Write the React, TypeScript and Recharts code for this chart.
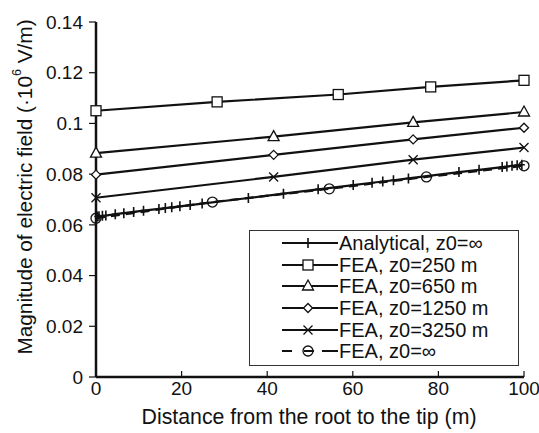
import { LineChart, Line, XAxis, YAxis, Legend } from "recharts";

const FONT = '"Liberation Sans", Arial, Helvetica, sans-serif';
const INK = "#111";

// axis ticks
const ticksX = [0, 20, 40, 60, 80, 100];
const ticksY = [0, 0.02, 0.04, 0.06, 0.08, 0.1, 0.12, 0.14];

// Analytical, z0=∞ (dense points near root and tip)
const analyticalX = [0.3, 0.7, 1.5, 2.3, 4.5, 6.5, 8.8, 11.1, 14.7, 16.2, 17.7, 19.6, 22, 24.8, 35.6, 43.8, 51.9, 60.1, 64.5, 67, 69.5, 73, 84.8, 89.5, 94.9, 96, 97.2, 98.4, 99.5];
const analyticalY = [0.0633, 0.0634, 0.0636, 0.0637, 0.0642, 0.0646, 0.0651, 0.0656, 0.0663, 0.0666, 0.0669, 0.0673, 0.0678, 0.0684, 0.0706, 0.0723, 0.074, 0.0757, 0.0766, 0.0771, 0.0776, 0.0783, 0.0808, 0.0817, 0.0828, 0.083, 0.0833, 0.0835, 0.0837];

// FEA series
const fea250X = [0, 28.3, 56.6, 78.2, 100];
const fea250Y = [0.105, 0.1085, 0.1114, 0.1144, 0.117];
const fea650X = [0, 41.5, 74.1, 100];
const fea650Y = [0.0883, 0.0948, 0.1004, 0.1045];
const fea1250X = [0, 41.5, 74.1, 100];
const fea1250Y = [0.0798, 0.0876, 0.0937, 0.0983];
const fea3250X = [0, 41.5, 74.1, 100];
const fea3250Y = [0.0707, 0.0789, 0.0857, 0.0905];
const feaInfX = [0, 27.2, 54.5, 77.2, 100];
const feaInfY = [0.0626, 0.069, 0.0742, 0.0789, 0.0833];

const zip = (xs: number[], ys: number[]) => xs.map((x, i) => ({ x, y: ys[i] }));

type Shape = "plus" | "square" | "triangle" | "diamond" | "cross" | "circle";

const series: { name: string; data: { x: number; y: number }[]; shape: Shape; dash?: string }[] = [
  { name: "Analytical, z0=∞", data: zip(analyticalX, analyticalY), shape: "plus" },
  { name: "FEA, z0=250 m", data: zip(fea250X, fea250Y), shape: "square" },
  { name: "FEA, z0=650 m", data: zip(fea650X, fea650Y), shape: "triangle" },
  { name: "FEA, z0=1250 m", data: zip(fea1250X, fea1250Y), shape: "diamond" },
  { name: "FEA, z0=3250 m", data: zip(fea3250X, fea3250Y), shape: "cross" },
  { name: "FEA, z0=∞", data: zip(feaInfX, feaInfY), shape: "circle", dash: "9 6" },
];

function Marker({ shape, cx, cy }: { shape: Shape; cx: number; cy: number }) {
  const st = { stroke: INK, strokeWidth: 1.3 };
  switch (shape) {
    case "plus":
      return <path d={`M${cx},${cy - 5}V${cy + 5}M${cx - 3},${cy}H${cx + 3}`} {...st} strokeWidth={1.6} fill="none" />;
    case "square":
      return <rect x={cx - 5} y={cy - 5} width={10} height={10} fill="#fff" {...st} />;
    case "triangle":
      return <path d={`M${cx},${cy - 6}L${cx + 5.5},${cy + 4}L${cx - 5.5},${cy + 4}Z`} fill="#fff" {...st} />;
    case "diamond":
      return <path d={`M${cx},${cy - 4.5}L${cx + 4.5},${cy}L${cx},${cy + 4.5}L${cx - 4.5},${cy}Z`} fill="#fff" {...st} />;
    case "cross":
      return <path d={`M${cx - 4.5},${cy - 4.5}L${cx + 4.5},${cy + 4.5}M${cx + 4.5},${cy - 4.5}L${cx - 4.5},${cy + 4.5}`} fill="none" {...st} />;
    case "circle":
      return <circle cx={cx} cy={cy} r={5} fill="none" {...st} />;
  }
}

const renderLegend = () => (
  <div
    style={{
      width: 270,
      height: 136,
      border: "1.5px solid #333",
      background: "#fff",
      boxSizing: "border-box",
      paddingTop: 1,
      fontFamily: FONT,
      fontSize: 20,
      color: INK,
    }}
  >
    {series.map((s) => (
      <div key={s.name} style={{ display: "flex", alignItems: "center", height: 21.7 }}>
        <svg width={56} height={22} style={{ marginLeft: 32, display: "block" }}>
          <line
            x1={0}
            x2={56}
            y1={11}
            y2={11}
            stroke={INK}
            strokeWidth={2.2}
            strokeDasharray={s.dash ? "10 12 10 8 16" : undefined}
          />
          <Marker shape={s.shape} cx={26} cy={11} />
        </svg>
        <span style={{ marginLeft: 1, lineHeight: "22px", whiteSpace: "nowrap" }}>{s.name}</span>
      </div>
    ))}
  </div>
);

export default function App() {
  return (
    <div style={{ position: "absolute", left: 0, top: 0, width: 539, height: 433, background: "#fff" }}>
      <LineChart width={539} height={433} margin={{ top: 22, right: 15, bottom: 0, left: 0 }} style={{ fontFamily: FONT }}>
        <XAxis
          type="number"
          dataKey="x"
          domain={[0, 100]}
          ticks={ticksX}
          height={56}
          tickSize={-6}
          tickMargin={11}
          axisLine={{ stroke: INK, strokeWidth: 2.5 }}
          tickLine={{ stroke: INK, strokeWidth: 1.2 }}
          tick={{ fill: INK, fontSize: 19 }}
          label={{
            content: () => (
              <text x={309} y={424} textAnchor="middle" fill={INK} fontSize={21.3} fontFamily={FONT}>
                Distance from the root to the tip (m)
              </text>
            ),
          }}
        />
        <XAxis xAxisId="top" orientation="top" type="number" domain={[0, 100]} height={0} tick={false} tickLine={false} axisLine={{ stroke: "#777", strokeWidth: 1.2 }} />
        <YAxis
          type="number"
          domain={[0, 0.14]}
          ticks={ticksY}
          width={96}
          tickSize={7}
          tickMargin={6}
          axisLine={{ stroke: INK, strokeWidth: 2.5 }}
          tickLine={{ stroke: INK, strokeWidth: 1.2 }}
          tick={{ fill: INK, fontSize: 19 }}
          label={{
            content: () => (
              <text x={24} y={187} transform="rotate(-90 24 187)" textAnchor="middle" dominantBaseline="central" fill={INK} fontSize={20.8} fontFamily={FONT}>
                Magnitude of electric field (·10
                <tspan dy={-7} fontSize={12.5}>6</tspan>
                <tspan dy={7}> V/m)</tspan>
              </text>
            ),
          }}
        />
        <YAxis yAxisId="right" orientation="right" type="number" domain={[0, 0.14]} width={0} tick={false} tickLine={false} axisLine={{ stroke: "#333", strokeWidth: 1.2 }} />
        {series.map((s) => (
          <Line
            key={s.name}
            data={s.data}
            dataKey="y"
            name={s.name}
            type="linear"
            stroke={INK}
            strokeWidth={2.2}
            strokeDasharray={s.dash}
            isAnimationActive={false}
            activeDot={false}
            dot={(p: any) => <Marker key={`${s.name}-${p.index}`} shape={s.shape} cx={p.cx} cy={p.cy} />}
          />
        ))}
        <Legend
          layout="horizontal"
          align="center"
          verticalAlign="middle"
          content={renderLegend}
          wrapperStyle={{ left: 249, top: 230, width: 270, height: 136 }}
        />
      </LineChart>
    </div>
  );
}
